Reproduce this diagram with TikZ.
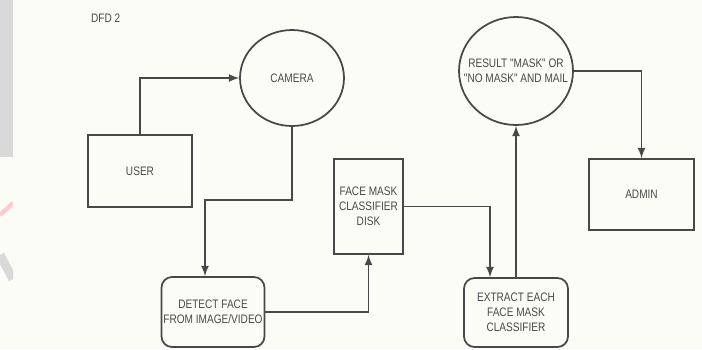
\documentclass[tikz,border=0pt]{standalone}
\usepackage{fontspec}
\usepackage{tikz}
\usetikzlibrary{shapes.geometric, positioning, arrows}
\newfontfamily\dfdfont[FakeStretch=0.82]{Liberation Sans}

\definecolor{ink}{HTML}{484848}
\definecolor{paper}{HTML}{FCFCF7}

\begin{document}
\begin{tikzpicture}[x=0.02cm, y=-0.02cm, >=latex, shorten >=0pt,
        every node/.style={font=\dfdfont\fontsize{7}{8.5}\selectfont, text=ink, align=center},
        entity/.style={draw=ink, line width=1pt, rectangle, inner sep=0pt},
        process/.style={draw=ink, line width=1pt, rectangle, rounded corners=6pt, inner sep=0pt},
        bubble/.style={draw=ink, line width=1pt, ellipse, inner sep=0pt},
        flow/.style={->, draw=ink, line width=1pt}]
        % page and the watermark at the left edge
        \fill[paper] (0,0) rectangle (702,349);
        \useasboundingbox (0,0) rectangle (702,349);
        \begin{scope}
            \clip (0,0) rectangle (13,349);
            \fill[gray!30] (0,0) rectangle (13,157);
            \draw[red!20, line width=2.5pt] (0,215) -- (13,203);
            \draw[gray!30, line width=5pt] (0,255) -- (13,279);
        \end{scope}

        \node[anchor=west] (title) at (85,18) {DFD 2};

        \node[bubble, minimum width=2.08cm, minimum height=1.92cm] (camera) at (292,78) {CAMERA};
        \node[entity, minimum width=2.08cm, minimum height=1.44cm] (user) at (140,171) {USER};
        \node[process, minimum width=2.06cm, minimum height=1.40cm] (detect) at (213,312) {DETECT FACE\\FROM IMAGE/VIDEO};
        \node[entity, minimum width=1.38cm, minimum height=1.90cm] (disk) at (368.5,206.5) {FACE MASK\\CLASSIFIER\\DISK};
        \node[process, minimum width=2.08cm, minimum height=1.38cm] (extract) at (516,312.5) {EXTRACT EACH\\FACE MASK\\CLASSIFIER};
        \node[bubble, minimum width=2.28cm, minimum height=2.16cm,
            label={[align=center]center:RESULT "MASK" OR\\"NO MASK" AND MAIL}] (result) at (516,71) {};
        \node[entity, minimum width=2.10cm, minimum height=1.42cm] (admin) at (641.5,194.5) {ADMIN};

        \coordinate (bend1) at (205,200);
        \coordinate (drop2) at (490,206.5);

        \draw[flow] (user.north) |- (camera.west);
        \draw[flow] (camera.south) |- (bend1) -- (bend1 |- detect.north);
        \draw[flow] (detect.east) -| (disk.south);
        \draw[flow] (disk.east) -- (drop2) -- (drop2 |- extract.north);
        \draw[flow] (extract.north) -- (result.south);
        \draw[flow] (result.east) -| (admin.north);
    \end{tikzpicture}
\end{document}
